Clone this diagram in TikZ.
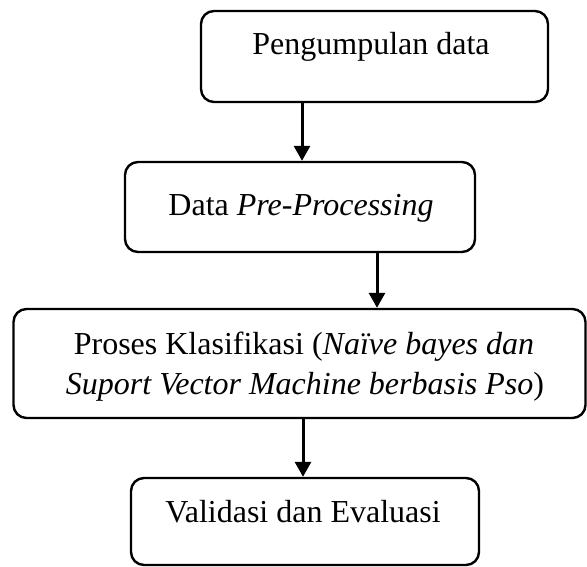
\documentclass[tikz,border=0pt]{standalone}
\usepackage{fontspec}
\setmainfont{Liberation Serif}
\usetikzlibrary{arrows.meta}
\begin{document}
\begin{tikzpicture}[x=1pt,y=-1pt,
  stepbox/.style={draw, line width=2.4pt, rounded corners=13pt, inner sep=0pt},
  label/.style={anchor=base, inner sep=0pt, font=\fontsize{32}{40}\selectfont},
  flow/.style={line width=3pt, -{Triangle[width=16pt,length=15pt]}}]
\useasboundingbox (0,0) rectangle (587,567);
% boxes of the flow
\node[stepbox, minimum width=347pt, minimum height=91pt]  (b1) at (374.5,56.5) {};
\node[stepbox, minimum width=350pt, minimum height=90pt]  (b2) at (300,207) {};
\node[stepbox, minimum width=572pt, minimum height=109pt] (b3) at (299.5,363.5) {};
\node[stepbox, minimum width=348pt, minimum height=87pt]  (b4) at (305,521.5) {};
% texts inside the boxes
\node[label] (t1) at (371,55) {Pengumpulan data};
\node[label] (t2) at (301,215) {Data \textit{Pre-Processing}};
\node[label] (t3a) at (304,354) {Proses Klasifikasi (\textit{Naïve bayes dan}};
\node[label] (t3b) at (305,394) {\textit{Suport Vector Machine berbasis Pso})};
\node[label] (t4) at (303,522) {Validasi dan Evaluasi};
% columns of the arrows
\coordinate (c1) at (302,0);
\coordinate (c2) at (377,0);
\coordinate (c3) at (303,0);
\draw[flow] (b1.south -| c1) -- (b2.north -| c1);
\draw[flow] (b2.south -| c2) -- (b3.north -| c2);
\draw[flow] (b3.south -| c3) -- (b4.north -| c3);
\end{tikzpicture}
\end{document}
